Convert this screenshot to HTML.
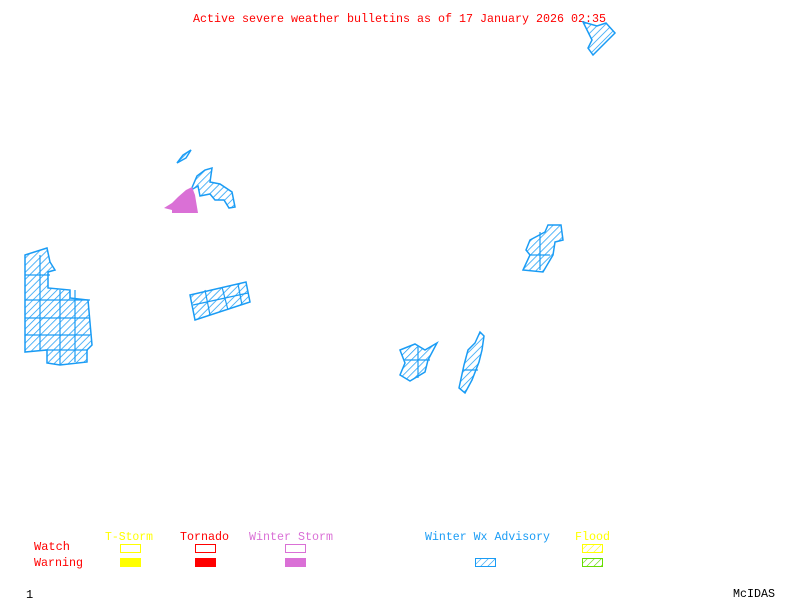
<!DOCTYPE html>
<html><head><meta charset="utf-8"><style>
html,body{margin:0;padding:0;background:#fff;}
svg{display:block;}
text{font-family:"Liberation Mono",monospace;font-size:12px;}
</style></head><body>
<svg width="800" height="600" viewBox="0 0 800 600" xmlns="http://www.w3.org/2000/svg">
<defs>
<pattern id="h" width="5" height="5" patternUnits="userSpaceOnUse" patternTransform="rotate(45)">
<rect width="5" height="5" fill="#fff"/><line x1="0" y1="0" x2="0" y2="5" stroke="#1a9cf5" stroke-width="1.5"/>
</pattern>
<pattern id="hy" width="5" height="5" patternUnits="userSpaceOnUse" patternTransform="rotate(45)">
<line x1="0" y1="0" x2="0" y2="5" stroke="#ffff00" stroke-width="1.2"/></pattern>
<pattern id="hg" width="5" height="5" patternUnits="userSpaceOnUse" patternTransform="rotate(45)">
<line x1="0" y1="0" x2="0" y2="5" stroke="#66dd00" stroke-width="1.2"/></pattern>
<pattern id="hb" width="5" height="5" patternUnits="userSpaceOnUse" patternTransform="rotate(45)">
<line x1="0" y1="0" x2="0" y2="5" stroke="#1a9cf5" stroke-width="1.2"/></pattern>
</defs>
<text x="193" y="22" fill="#ff0000" textLength="413" lengthAdjust="spacingAndGlyphs" font-size="13">Active severe weather bulletins as of 17 January 2026 02:35</text>
<g fill="url(#h)" stroke="#1a9cf5" stroke-width="1.5">
<polygon points="583,22 597,26 606,23 615,33 593,55 588,48 592,40"/>
<polygon points="177,163 183,155 191,150 186,158"/>
<polygon points="191,190 197,176 205,170 212,168 210,182 220,184 232,192 235,207 229,208 224,200 215,200 210,194 200,196 198,186"/>
<polygon points="25,255 47,248 50,262 55,270 48,272 48,288 70,290 70,298 88,300 92,345 87,350 87,362 60,365 47,363 47,350 25,352"/>
<polygon points="190,295 246,282 250,302 195,320"/>
<polygon points="530,240 545,232 548,225 561,225 563,240 555,242 553,255 543,272 523,270 530,255 526,250"/>
<polygon points="400,350 415,344 425,350 437,343 428,360 425,372 410,381 400,375 405,363"/>
<polygon points="459,388 464,365 468,350 475,343 480,332 484,336 482,350 479,362 472,380 465,393"/>
</g>
<g stroke="#1a9cf5" stroke-width="1.2" fill="none">
<path d="M25,275 H50 M25,300 H90 M25,318 H90 M25,335 H90 M45,350 H88 M40,255 V350 M60,290 V365 M75,290 V362"/>
<path d="M205,290 L210,315 M222,287 L228,310 M238,284 L242,305 M193,305 L248,293"/>
<path d="M530,255 H550 M540,232 V270 M405,360 H430 M418,347 V378 M463,370 H478"/>
</g>
<polygon points="164,208 172,203 178,197 186,190 192,187 195,195 198,213 172,213 172,210" fill="#da70d6"/>
<g fill="#ff0000">
<text x="34" y="550" textLength="36" lengthAdjust="spacingAndGlyphs">Watch</text>
<text x="34" y="566" textLength="49" lengthAdjust="spacingAndGlyphs">Warning</text>
<text x="180" y="540" textLength="49" lengthAdjust="spacingAndGlyphs">Tornado</text>
</g>
<text x="105" y="540" fill="#ffff00" textLength="48" lengthAdjust="spacingAndGlyphs">T-Storm</text>
<text x="249" y="540" fill="#da70d6" textLength="84" lengthAdjust="spacingAndGlyphs">Winter Storm</text>
<text x="425" y="540" fill="#1a9cf5" textLength="125" lengthAdjust="spacingAndGlyphs">Winter Wx Advisory</text>
<text x="575" y="540" fill="#ffff00" textLength="35" lengthAdjust="spacingAndGlyphs">Flood</text>
<rect x="120.5" y="544.5" width="20" height="8" fill="none" stroke="#ffff00"/>
<rect x="120" y="558" width="21" height="9" fill="#ffff00"/>
<rect x="195.5" y="544.5" width="20" height="8" fill="none" stroke="#ff0000"/>
<rect x="195" y="558" width="21" height="9" fill="#ff0000"/>
<rect x="285.5" y="544.5" width="20" height="8" fill="none" stroke="#da70d6"/>
<rect x="285" y="558" width="21" height="9" fill="#da70d6"/>
<rect x="475.5" y="558.5" width="20" height="8" fill="url(#hb)" stroke="#1a9cf5"/>
<rect x="582.5" y="544.5" width="20" height="8" fill="url(#hy)" stroke="#ffff00"/>
<rect x="582.5" y="558.5" width="20" height="8" fill="url(#hg)" stroke="#66dd00"/>
<text x="26" y="598" fill="#000">1</text>
<text x="733" y="597" fill="#000" textLength="42" lengthAdjust="spacingAndGlyphs">McIDAS</text>
</svg>
</body></html>
